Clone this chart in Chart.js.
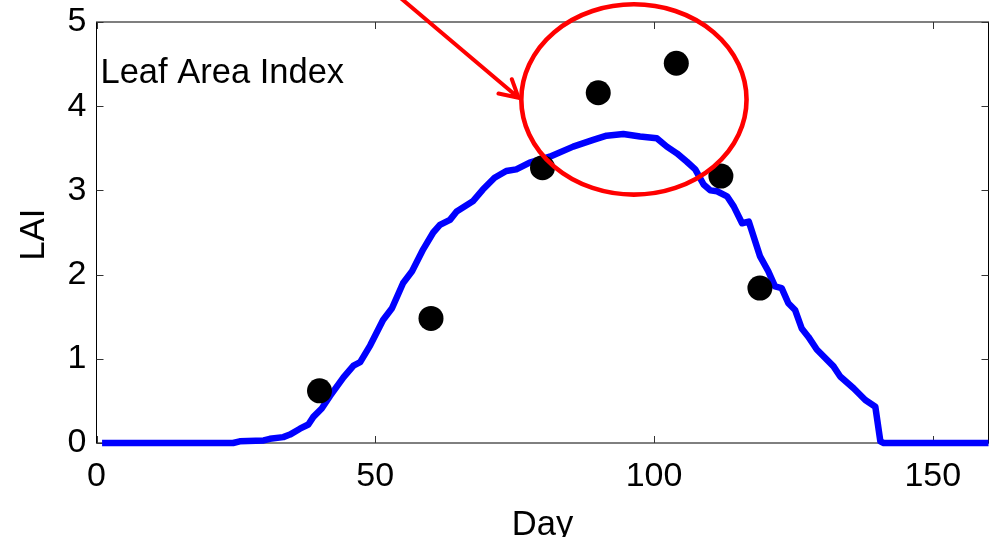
<!DOCTYPE html>
<html>
<head>
<meta charset="utf-8">
<script src="https://cdn.jsdelivr.net/npm/chart.js@4"></script>
<style>
  html, body { margin: 0; padding: 0; background: #ffffff; }
  #wrap { width: 992px; height: 537px; }
</style>
</head>
<body>
<div id="wrap"><canvas id="lai" width="992" height="537"></canvas></div>
<script>
// Simulated leaf area index through the season
const modelDays = [1, 24.5, 25.7, 30, 31.1, 33.5, 34.7, 36.5, 38, 38.9, 40.4, 41.9, 44.3, 46.1, 47.3,
  49.1, 51.4, 53, 55, 56.6, 58.6, 60.4, 61.6, 63.4, 64.6, 67.5, 69.3, 71.4, 73.5, 75.3, 77.7,
  81.3, 85.5, 89.1, 91.5, 94.5, 97.5, 100.5, 102.3, 104.1, 105.9, 107.4, 108.9, 110.1, 111.3,
  113.1, 114.3, 115.8, 117, 119, 120.5, 121.7, 122.9, 124.1, 125.3, 126.5, 127.7, 129.2, 132.2,
  133.4, 135.8, 137.9, 139.7, 140.6, 141.2, 160];
const modelLai = [0, 0, 0.02, 0.03, 0.05, 0.07, 0.10, 0.17, 0.22, 0.31, 0.41, 0.56, 0.78, 0.92, 0.96,
  1.16, 1.46, 1.60, 1.90, 2.04, 2.30, 2.50, 2.59, 2.65, 2.75, 2.87, 3.01, 3.15, 3.23, 3.25, 3.33,
  3.40, 3.52, 3.60, 3.65, 3.67, 3.64, 3.62, 3.52, 3.44, 3.34, 3.25, 3.07, 3.00, 2.99,
  2.93, 2.81, 2.61, 2.63, 2.22, 2.04, 1.86, 1.84, 1.66, 1.58, 1.36, 1.26, 1.11, 0.91,
  0.79, 0.65, 0.51, 0.43, 0.02, 0, 0];

// Field measurements
const obsDays = [40, 60, 80, 90, 104, 112, 119];
const obsLai = [0.62, 1.48, 3.27, 4.16, 4.51, 3.17, 1.84];

// Axis ticks
const xTicks = [0, 50, 100, 150];
const yTicks = [0, 1, 2, 3, 4, 5];

// Highlight ellipse (centre and radii in day / LAI units) and the pointer arrow
const ringCenter = [96.4, 4.08];
const ringRadius = [20.2, 1.13];
const arrowTail = [54.1, 5.31];
const arrowTip = [75.7, 4.10];
const arrowBarbs = [[74.5, 4.32], [72.1, 4.15]];

const FONT = '"Liberation Sans", Arial, Helvetica, sans-serif';

const decorations = {
  id: 'decorations',
  beforeDatasetsDraw(chart) {
    const { ctx, chartArea: a, scales: { x, y } } = chart;
    ctx.save();
    // box frame
    ctx.strokeStyle = '#000000';
    ctx.lineWidth = 1;
    ctx.strokeRect(a.left, a.top, a.right - a.left, a.bottom - a.top);
    // inward tick marks on all four sides
    ctx.strokeStyle = '#333333';
    const tl = 7;
    ctx.beginPath();
    xTicks.forEach(v => {
      const px = Math.round(x.getPixelForValue(v)) + 0.5;
      ctx.moveTo(px, a.bottom); ctx.lineTo(px, a.bottom - tl);
      ctx.moveTo(px, a.top); ctx.lineTo(px, a.top + tl);
    });
    yTicks.forEach(v => {
      const py = Math.round(y.getPixelForValue(v)) + 0.5;
      ctx.moveTo(a.left, py); ctx.lineTo(a.left + tl, py);
      ctx.moveTo(a.right, py); ctx.lineTo(a.right - tl, py);
    });
    ctx.stroke();
    ctx.restore();
  },
  afterDatasetsDraw(chart) {
    const { ctx, chartArea: a, scales: { x, y } } = chart;
    ctx.save();
    // red ellipse
    const cx = x.getPixelForValue(ringCenter[0]);
    const cy = y.getPixelForValue(ringCenter[1]);
    const rx = x.getPixelForValue(ringCenter[0] + ringRadius[0]) - cx;
    const ry = cy - y.getPixelForValue(ringCenter[1] + ringRadius[1]);
    ctx.strokeStyle = '#ff0000';
    ctx.lineWidth = 4.6;
    ctx.beginPath();
    ctx.ellipse(cx, cy, rx, ry, 0, 0, Math.PI * 2);
    ctx.stroke();
    // red arrow
    ctx.lineWidth = 4;
    ctx.lineCap = 'round';
    ctx.lineJoin = 'round';
    const tip = [x.getPixelForValue(arrowTip[0]), y.getPixelForValue(arrowTip[1])];
    ctx.beginPath();
    ctx.moveTo(x.getPixelForValue(arrowTail[0]), y.getPixelForValue(arrowTail[1]));
    ctx.lineTo(tip[0], tip[1]);
    arrowBarbs.forEach(b => {
      ctx.moveTo(tip[0], tip[1]);
      ctx.lineTo(x.getPixelForValue(b[0]), y.getPixelForValue(b[1]));
    });
    ctx.stroke();
    // text
    ctx.fillStyle = '#000000';
    ctx.font = '34.5px ' + FONT;
    ctx.textBaseline = 'alphabetic';
    ctx.textAlign = 'left';
    ctx.fillText('Leaf Area Index', a.left + 4, a.top + 61);
    ctx.textAlign = 'center';
    ctx.fillText('Day', (a.left + a.right) / 2, 535);
    ctx.translate(44, (a.top + a.bottom) / 2 + 2);
    ctx.rotate(-Math.PI / 2);
    ctx.fillText('LAI', 0, 0);
    ctx.restore();
  }
};

new Chart(document.getElementById('lai'), {
  type: 'scatter',
  data: {
    datasets: [
      {
        type: 'scatter',
        data: obsDays.map((d, i) => ({ x: d, y: obsLai[i] })),
        backgroundColor: '#000000',
        borderWidth: 0,
        pointRadius: 12.5,
        pointHoverRadius: 12.5,
        clip: false,
        order: 1
      },
      {
        type: 'line',
        data: modelDays.map((d, i) => ({ x: d, y: modelLai[i] })),
        borderColor: '#0000ff',
        borderWidth: 6.5,
        pointRadius: 0,
        tension: 0,
        fill: false,
        borderJoinStyle: 'round',
        clip: false,
        order: 2
      }
    ]
  },
  options: {
    responsive: false,
    animation: false,
    devicePixelRatio: 1,
    events: [],
    layout: { autoPadding: false, padding: { top: 22, right: 3.5, left: 0, bottom: 0 } },
    plugins: { legend: { display: false }, tooltip: { enabled: false } },
    scales: {
      x: {
        type: 'linear',
        min: 0,
        max: 160,
        grid: { display: false, drawTicks: false },
        border: { display: false },
        afterBuildTicks: s => { s.ticks = xTicks.map(v => ({ value: v })); },
        afterFit: s => { s.height = 94; s.paddingLeft = 0; s.paddingRight = 0; },
        ticks: { color: '#000000', padding: 13, maxRotation: 0, font: { family: FONT, size: 34 } }
      },
      y: {
        type: 'linear',
        min: 0,
        max: 5,
        grid: { display: false, drawTicks: false },
        border: { display: false },
        afterBuildTicks: s => { s.ticks = yTicks.map(v => ({ value: v })); },
        afterFit: s => { s.width = 96.5; s.paddingTop = 0; s.paddingBottom = 0; },
        ticks: { color: '#000000', padding: 10, font: { family: FONT, size: 34 } }
      }
    }
  },
  plugins: [decorations]
});
</script>
</body>
</html>
